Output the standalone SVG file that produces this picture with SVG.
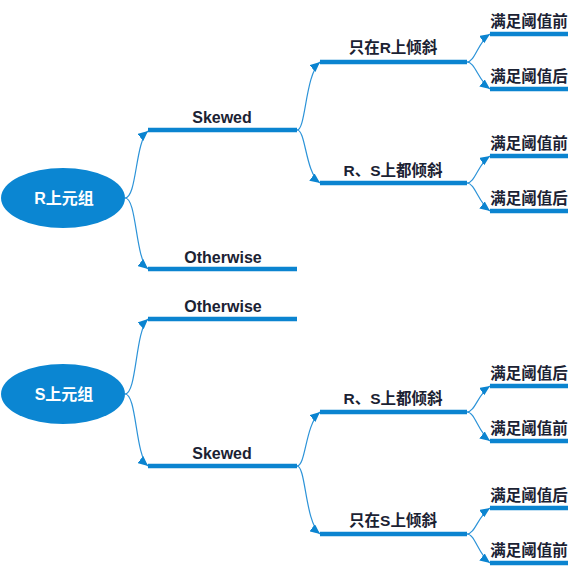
<svg xmlns="http://www.w3.org/2000/svg" width="576" height="576" viewBox="0 0 576 576">
<style>
.bar{stroke:#0B84D0;stroke-width:4.5;fill:none}
.con{stroke:#2C93D8;stroke-width:1.2;fill:none;marker-end:url(#arr)}
.ell{fill:#0B86D2}
.lbl{font-family:"Liberation Sans","Noto Sans CJK SC",sans-serif;font-weight:bold;fill:#1B2233;text-anchor:middle}
.en{font-size:16px}
.cn{font-size:15.5px}
.wh{fill:#FFFFFF;font-size:16px}
</style>
<defs>
<marker id="arr" markerUnits="userSpaceOnUse" markerWidth="11" markerHeight="9" refX="10" refY="4.5" orient="auto">
<path d="M0,0 L10,4.5 L0,9 z" fill="#0B84D0"/>
</marker>
</defs>
<rect width="576" height="576" fill="#FFFFFF"/>
<g id="connectors">
<path class="con" d="M125,198 C137,198 135,142 148,131"/>
<path class="con" d="M125,198 C137,198 135,258 148,269"/>
<path class="con" d="M297,130 C306,130 305,75 320,62"/>
<path class="con" d="M297,130 C306,130 305,172 320,183"/>
<path class="con" d="M467,62 C475,62 478,42 490,34"/>
<path class="con" d="M467,62 C475,62 478,80 490,89"/>
<path class="con" d="M467,183 C475,183 478,164 490,156"/>
<path class="con" d="M467,183 C475,183 478,202 490,211"/>
<path class="con" d="M125,394 C137,394 135,331 148,319"/>
<path class="con" d="M125,394 C137,394 135,455 148,466"/>
<path class="con" d="M297,466 C306,466 305,425 320,412"/>
<path class="con" d="M297,466 C306,466 305,522 320,534"/>
<path class="con" d="M467,412 C475,412 478,394 490,386"/>
<path class="con" d="M467,412 C475,412 478,432 490,441"/>
<path class="con" d="M467,534 C475,534 478,516 490,508"/>
<path class="con" d="M467,534 C475,534 478,554 490,563"/>
</g>
<g id="R_root"><ellipse class="ell" cx="63" cy="198" rx="62" ry="30"/><text class="lbl wh" x="64" y="203.5">R上元组</text></g>
<g id="R_skewed"><line class="bar" x1="148" y1="130" x2="297" y2="130"/><text class="lbl en" x="222" y="123">Skewed</text></g>
<g id="R_otherwise"><line class="bar" x1="148" y1="269" x2="297" y2="269"/><text class="lbl en" x="223" y="263">Otherwise</text></g>
<g id="R_onlyR"><line class="bar" x1="320" y1="62" x2="467" y2="62"/><text class="lbl cn" x="393" y="53">只在R上倾斜</text></g>
<g id="R_both"><line class="bar" x1="320" y1="183" x2="467" y2="183"/><text class="lbl cn" x="393" y="176">R、S上都倾斜</text></g>
<g id="R_onlyR_pre"><line class="bar" x1="490" y1="34" x2="568" y2="34"/><text class="lbl cn" x="529" y="27">满足阈值前</text></g>
<g id="R_onlyR_post"><line class="bar" x1="490" y1="89" x2="568" y2="89"/><text class="lbl cn" x="529" y="82">满足阈值后</text></g>
<g id="R_both_pre"><line class="bar" x1="490" y1="156" x2="568" y2="156"/><text class="lbl cn" x="529" y="149">满足阈值前</text></g>
<g id="R_both_post"><line class="bar" x1="490" y1="211" x2="568" y2="211"/><text class="lbl cn" x="529" y="204">满足阈值后</text></g>
<g id="S_root"><ellipse class="ell" cx="63" cy="394" rx="62" ry="30"/><text class="lbl wh" x="64" y="399.5">S上元组</text></g>
<g id="S_otherwise"><line class="bar" x1="148" y1="319" x2="297" y2="319"/><text class="lbl en" x="223" y="312">Otherwise</text></g>
<g id="S_skewed"><line class="bar" x1="148" y1="466" x2="297" y2="466"/><text class="lbl en" x="222" y="459">Skewed</text></g>
<g id="S_both"><line class="bar" x1="320" y1="412" x2="467" y2="412"/><text class="lbl cn" x="393" y="404">R、S上都倾斜</text></g>
<g id="S_onlyS"><line class="bar" x1="320" y1="534" x2="467" y2="534"/><text class="lbl cn" x="393" y="526">只在S上倾斜</text></g>
<g id="S_both_post"><line class="bar" x1="490" y1="386" x2="568" y2="386"/><text class="lbl cn" x="529" y="379">满足阈值后</text></g>
<g id="S_both_pre"><line class="bar" x1="490" y1="441" x2="568" y2="441"/><text class="lbl cn" x="529" y="434">满足阈值前</text></g>
<g id="S_onlyS_post"><line class="bar" x1="490" y1="508" x2="568" y2="508"/><text class="lbl cn" x="529" y="501">满足阈值后</text></g>
<g id="S_onlyS_pre"><line class="bar" x1="490" y1="563" x2="568" y2="563"/><text class="lbl cn" x="529" y="556">满足阈值前</text></g>
</svg>
